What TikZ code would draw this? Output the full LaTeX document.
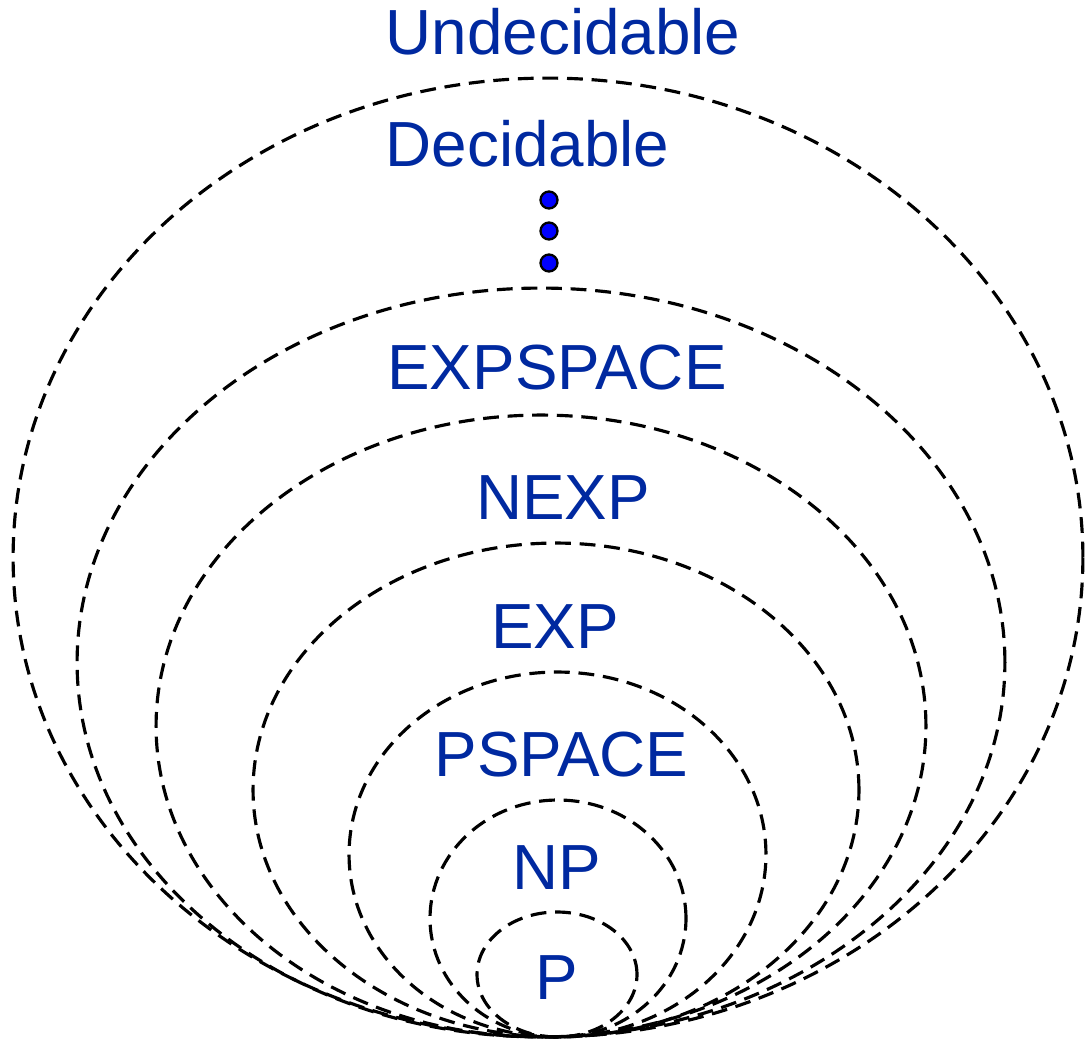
\documentclass[tikz,border=0pt]{standalone}
\usepackage{fontspec}
\setmainfont{Liberation Sans}
\definecolor{lblblue}{RGB}{0,41,160}
\definecolor{dotblue}{RGB}{0,0,255}
\tikzset{
  setline/.style={draw=black, line width=1.8pt, dash pattern=on 9pt off 5pt},
  lbl/.style={anchor=base, inner sep=0pt, text=lblblue, font=\fontsize{36.3}{40}\selectfont},
  bluedot/.style={circle, draw=black, line width=1.3pt, fill=dotblue, minimum size=0.34cm, inner sep=0pt}
}
\begin{document}
\begin{tikzpicture}[x=0.02cm,y=-0.02cm]
\useasboundingbox (0,0) rectangle (1085,1043);
% nested sets
\path[setline] (548,557.5) ellipse [x radius=10.70cm, y radius=9.59cm];
\path[setline] (541,662.5) ellipse [x radius=9.28cm, y radius=7.49cm];
\path[setline] (541,726) ellipse [x radius=7.70cm, y radius=6.22cm];
\path[setline] (556,790) ellipse [x radius=6.06cm, y radius=4.94cm];
\path[setline] (557.5,854.5) ellipse [x radius=4.17cm, y radius=3.65cm];
\path[setline] (558,918.5) ellipse [x radius=2.56cm, y radius=2.37cm];
\path[setline] (557,974.5) ellipse [x radius=1.60cm, y radius=1.25cm];
% labels
\node[lbl] (undec) at (563,55) {Undecidable};
\node[lbl] (dec) at (527.5,167) {Decidable};
\node[lbl] (expspace) at (557,390) {EXPSPACE};
\node[lbl] (nexp) at (563,520) {NEXP};
\node[lbl] (exp) at (555,648) {EXP};
\node[lbl] (pspace) at (561.5,776) {PSPACE};
\node[lbl] (np) at (557,889) {NP};
\node[lbl] (p) at (557,999) {P};
% dots
\node[bluedot] (d1) at (549,200) {};
\node[bluedot] (d2) at (549,231) {};
\node[bluedot] (d3) at (549,263) {};
\end{tikzpicture}
\end{document}
